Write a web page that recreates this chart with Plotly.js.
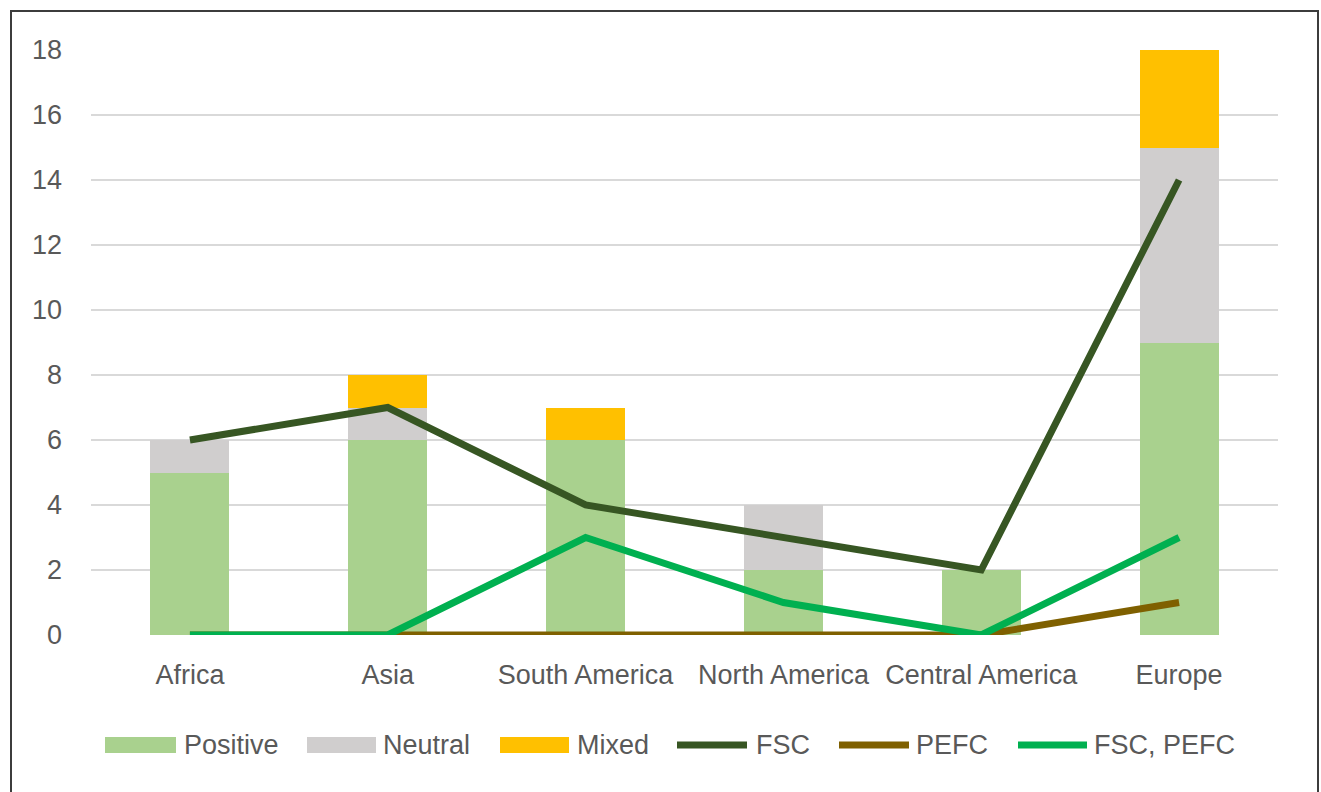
<!DOCTYPE html>
<html>
<head>
<meta charset="utf-8">
<script src="https://cdn.plot.ly/plotly-3.0.1.min.js"></script>
<style>
  html, body { margin: 0; padding: 0; background: #fff; overflow: hidden; }
  #frame { position: absolute; left: 10px; top: 10px; width: 1305px; height: 800px; border: 2px solid #3c3c3c; }
  #chart { position: absolute; left: 0; top: 0; width: 1321px; height: 792px; }
</style>
</head>
<body>
<div id="frame"></div>
<div id="chart"></div>
<script>
const regions = ["Africa", "Asia", "South America", "North America", "Central America", "Europe"];
const positive = [5, 6, 6, 2, 2, 9];
const neutral = [1, 1, 0, 2, 0, 6];
const mixed = [0, 1, 1, 0, 0, 3];
const fsc = [6, 7, 4, 3, 2, 14];
const pefc = [0, 0, 0, 0, 0, 1];
const fscPefc = [0, 0, 3, 1, 0, 3];
const yTicks = [0, 2, 4, 6, 8, 10, 12, 14, 16, 18];

const FONT = '"Liberation Sans", Arial, sans-serif';
const FS = 27;
const TXT = '#595959';

const barSeries = [
  {name: 'Positive', y: positive, color: '#A9D18E'},
  {name: 'Neutral', y: neutral, color: '#D0CECE'},
  {name: 'Mixed', y: mixed, color: '#FFC000'}
];
const lineSeries = [
  {name: 'FSC', y: fsc, color: '#375623'},
  {name: 'PEFC', y: pefc, color: '#7F6000'},
  {name: 'FSC, PEFC', y: fscPefc, color: '#00B050'}
];

const traces = [];
barSeries.forEach(s => traces.push({
  type: 'bar', name: s.name, x: regions, y: s.y,
  marker: {color: s.color, line: {width: 0}}, showlegend: false, hoverinfo: 'skip'
}));
lineSeries.forEach(s => traces.push({
  type: 'scatter', mode: 'lines', name: s.name, x: regions, y: s.y,
  line: {color: s.color, width: 7}, showlegend: false, hoverinfo: 'skip'
}));

// plot area in pixels
const W = 1321, H = 792;
const M = {l: 91, r: 43, t: 50, b: 157};
const pw = W - M.l - M.r, ph = H - M.t - M.b;
const px = x => (x - M.l) / pw;
const py = y => (H - M.b - y) / ph;

// custom legend (Excel-style)
const legendY = 745;
const legendItems = [
  {s: barSeries[0], kind: 'bar', x0: 105, x1: 176, tx: 182},
  {s: barSeries[1], kind: 'bar', x0: 307, x1: 376, tx: 381},
  {s: barSeries[2], kind: 'bar', x0: 500, x1: 569, tx: 575},
  {s: lineSeries[0], kind: 'line', x0: 677, x1: 747, tx: 754},
  {s: lineSeries[1], kind: 'line', x0: 839, x1: 909, tx: 914},
  {s: lineSeries[2], kind: 'line', x0: 1018, x1: 1087, tx: 1092}
];
const shapes = [], annotations = [];
legendItems.forEach(it => {
  if (it.kind === 'bar') {
    shapes.push({type: 'rect', xref: 'paper', yref: 'paper',
      x0: px(it.x0), x1: px(it.x1), y0: py(legendY - 8), y1: py(legendY + 8),
      fillcolor: it.s.color, line: {width: 0}});
  } else {
    shapes.push({type: 'line', xref: 'paper', yref: 'paper',
      x0: px(it.x0), x1: px(it.x1), y0: py(legendY), y1: py(legendY),
      line: {color: it.s.color, width: 7}});
  }
  annotations.push({xref: 'paper', yref: 'paper', x: px(it.tx), y: py(legendY),
    xanchor: 'left', yanchor: 'middle', showarrow: false, text: it.s.name,
    font: {family: FONT, size: FS, color: TXT}});
});

const layout = {
  width: W, height: H,
  margin: M,
  paper_bgcolor: 'rgba(0,0,0,0)', plot_bgcolor: 'rgba(0,0,0,0)',
  barmode: 'stack', bargap: 0.6,
  showlegend: false,
  font: {family: FONT, size: FS, color: TXT},
  xaxis: {type: 'category', showgrid: false, zeroline: false, showline: false,
    ticks: '', tickangle: 0, automargin: false, ticklabelstandoff: 21,
    tickfont: {family: FONT, size: FS, color: TXT}},
  yaxis: {range: [0, 18], tickvals: yTicks, showgrid: true, gridcolor: '#D9D9D9', gridwidth: 2,
    zeroline: false, showline: false, ticks: '', ticklabelstandoff: 28, automargin: false,
    tickfont: {family: FONT, size: FS, color: TXT}},
  shapes: shapes, annotations: annotations
};

Plotly.newPlot('chart', traces, layout, {staticPlot: true, displayModeBar: false});
</script>
</body>
</html>
